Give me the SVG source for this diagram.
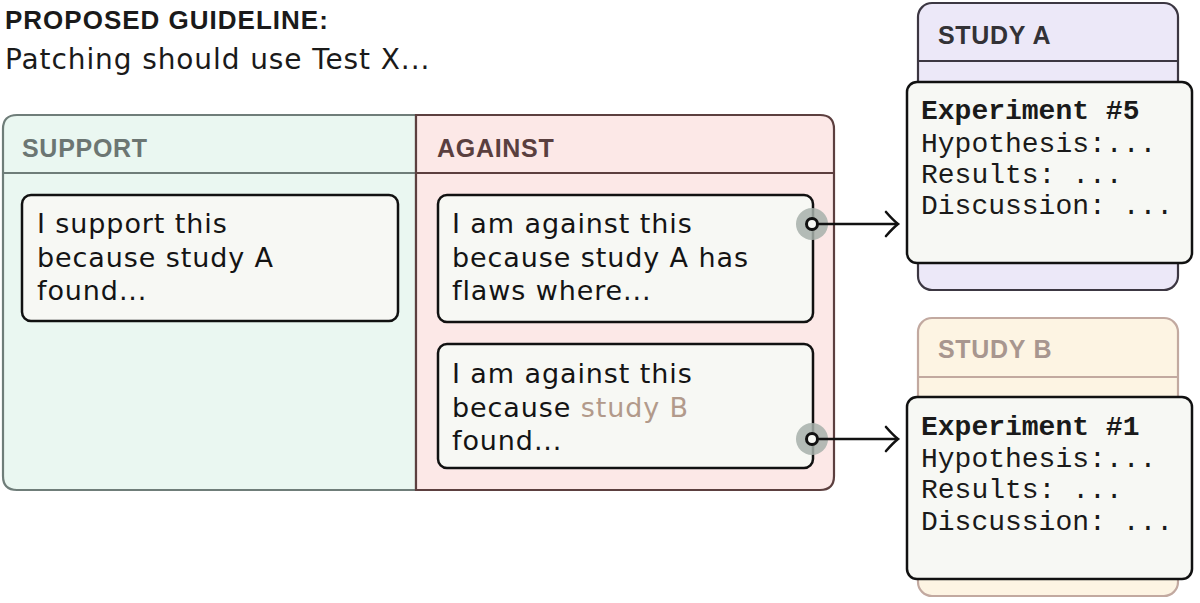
<svg xmlns="http://www.w3.org/2000/svg" width="1200" height="603" viewBox="0 0 1200 603">
<defs>
<style>
.title{font-family:"Liberation Sans",Arial,sans-serif;font-weight:bold;font-size:26px;letter-spacing:1px;fill:#1a1a1a}
.sub{font-family:"DejaVu Sans",sans-serif;font-size:28px;letter-spacing:0.9px;fill:#1a1a1a}
.colhead{font-family:"Liberation Sans",Arial,sans-serif;font-weight:bold;font-size:25px;letter-spacing:0.7px}
.body{font-family:"DejaVu Sans",sans-serif;font-size:27px;letter-spacing:0.9px;fill:#141414}
.card{fill:#f7f8f4;stroke:#111;stroke-width:2.5}
.mono{font-family:"Liberation Mono","DejaVu Sans Mono",monospace;font-size:28px;fill:#1a1a1a}
.monob{font-weight:bold}
.conn{stroke:#111;stroke-width:2.4;fill:none}
.halo{fill:#a7b0aa;opacity:0.85}
.port{fill:#f7f8f4;stroke:#111;stroke-width:3}
</style>
<marker id="arr" markerWidth="18" markerHeight="30" refX="15" refY="15" orient="auto" markerUnits="userSpaceOnUse">
<path d="M3,3 Q10,11 15,15 Q10,19 3,27" fill="none" stroke="#111" stroke-width="2.6" stroke-linecap="round"/>
</marker>
</defs>
<rect width="1200" height="603" fill="#ffffff"/>

<g id="guideline">
<text class="title" x="5" y="29">PROPOSED GUIDELINE:</text>
<text class="sub" x="5" y="69">Patching should use Test X...</text>
</g>

<g id="support-column">
<path d="M416,115 H17 Q3,115 3,129 V476 Q3,490 17,490 H416 Z" fill="#eaf7f1" stroke="#6f7d79" stroke-width="2.2"/>
<line x1="3" y1="173" x2="416" y2="173" stroke="#6f7d79" stroke-width="2"/>
<text class="colhead" x="22" y="157" fill="#6c7673">SUPPORT</text>
</g>

<g id="against-column">
<path d="M416,115 H820 Q834,115 834,129 V476 Q834,490 820,490 H416 Z" fill="#fce8e7" stroke="#5c3f3f" stroke-width="2.2"/>
<line x1="416" y1="173" x2="834" y2="173" stroke="#5c3f3f" stroke-width="2"/>
<text class="colhead" x="437" y="157" fill="#5a3f3f">AGAINST</text>
</g>

<g id="support-card">
<rect class="card" x="22" y="195" width="376" height="126" rx="9"/>
<text class="body" x="37" y="233">I support this</text>
<text class="body" x="37" y="267">because study A</text>
<text class="body" x="37" y="300">found...</text>
</g>

<g id="against-card-1">
<rect class="card" x="438" y="195" width="375" height="127" rx="9"/>
<text class="body" x="452" y="233">I am against this</text>
<text class="body" x="452" y="267">because study A has</text>
<text class="body" x="452" y="300">flaws where...</text>
</g>

<g id="against-card-2">
<rect class="card" x="438" y="344" width="375" height="124" rx="9"/>
<text class="body" x="452" y="383">I am against this</text>
<text class="body" x="452" y="417">because <tspan fill="#b29a8b">study B</tspan></text>
<text class="body" x="452" y="450">found...</text>
</g>

<g id="study-a">
<rect x="918" y="3" width="260" height="287" rx="14" fill="#ece8f8" stroke="#3c3742" stroke-width="2.2"/>
<line x1="918" y1="61" x2="1178" y2="61" stroke="#3c3742" stroke-width="2"/>
<text class="colhead" x="938" y="44" fill="#333236">STUDY A</text>
<rect class="card" x="907" y="82" width="285" height="181" rx="10"/>
<text class="mono monob" x="921" y="119">Experiment #5</text>
<text class="mono" x="921" y="152">Hypothesis:...</text>
<text class="mono" x="921" y="183">Results: ...</text>
<text class="mono" x="921" y="214">Discussion: ...</text>
</g>

<g id="study-b">
<rect x="918" y="318" width="260" height="278" rx="14" fill="#fdf4e3" stroke="#c2a9a0" stroke-width="2.2"/>
<line x1="918" y1="377" x2="1178" y2="377" stroke="#c2a9a0" stroke-width="2"/>
<text class="colhead" x="938" y="358" fill="#a8968f">STUDY B</text>
<rect class="card" x="907" y="397" width="285" height="182" rx="10"/>
<text class="mono monob" x="921" y="435">Experiment #1</text>
<text class="mono" x="921" y="467">Hypothesis:...</text>
<text class="mono" x="921" y="498">Results: ...</text>
<text class="mono" x="921" y="530">Discussion: ...</text>
</g>

<g id="connectors">
<circle class="halo" cx="812" cy="224" r="16"/>
<line class="conn" x1="818" y1="224" x2="898" y2="224" marker-end="url(#arr)"/>
<circle class="port" cx="812" cy="224" r="5.5"/>
<circle class="halo" cx="812" cy="439" r="16"/>
<line class="conn" x1="818" y1="439" x2="898" y2="439" marker-end="url(#arr)"/>
<circle class="port" cx="812" cy="439" r="5.5"/>
</g>
</svg>
